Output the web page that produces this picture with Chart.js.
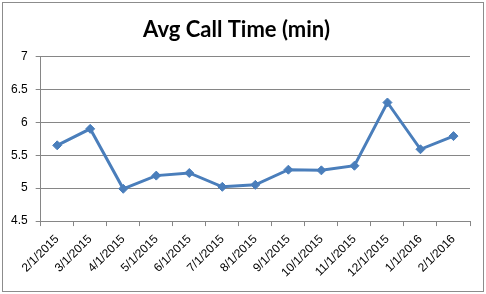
<!DOCTYPE html>
<html>
<head>
<meta charset="utf-8">
<script src="https://cdn.jsdelivr.net/npm/chart.js@4"></script>
<style>
  html, body { margin: 0; padding: 0; background: #fff; }
  #wrap { width: 486px; height: 294px; }
</style>
</head>
<body>
<div id="wrap"><canvas id="myChart" width="486" height="294"></canvas></div>
<script>
const months = ['2/1/2015', '3/1/2015', '4/1/2015', '5/1/2015', '6/1/2015', '7/1/2015', '8/1/2015',
    '9/1/2015', '10/1/2015', '11/1/2015', '12/1/2015', '1/1/2016', '2/1/2016'];
const callTime = [5.65, 5.9, 4.99, 5.19, 5.23, 5.02, 5.05, 5.28, 5.27, 5.34, 6.3, 5.59, 5.79];
const yMin = 4.5, yMax = 7, yStep = 0.5;

const lineBlue = '#4a7ebb';
const gridGray = '#868686';

// outer chart border, like the spreadsheet chart frame
const frame = {
    id: 'frame',
    afterDraw(chart) {
        const { ctx } = chart;
        ctx.save();
        ctx.strokeStyle = '#8c8c8c';
        ctx.lineWidth = 1;
        ctx.strokeRect(2.5, 2.5, chart.width - 5, chart.height - 5);
        ctx.restore();
    }
};

const ctx = document.getElementById('myChart').getContext('2d');
new Chart(ctx, {
    type: 'line',
    data: {
        labels: months,
        datasets: [{
            data: callTime,
            borderColor: lineBlue,
            backgroundColor: lineBlue,
            borderWidth: 3,
            pointStyle: 'rectRot',
            pointRadius: 4.5,
            pointBorderWidth: 1,
            tension: 0
        }]
    },
    options: {
        responsive: false,
        animation: false,
        layout: { padding: { left: 3, right: 16, top: 6, bottom: 8 } },
        plugins: {
            legend: { display: false },
            tooltip: { enabled: false },
            title: {
                display: true,
                text: 'Avg Call Time (min)',
                color: '#000',
                font: { family: 'Lato', size: 22, weight: 'bold' },
                padding: { top: 11, bottom: 13 }
            }
        },
        scales: {
            x: {
                offset: true,
                grid: {
                    offset: true,
                    drawOnChartArea: false,
                    color: gridGray,
                    tickLength: 5
                },
                border: { color: gridGray },
                ticks: {
                    color: '#000',
                    font: { family: 'Liberation Sans', size: 12 },
                    minRotation: 45,
                    maxRotation: 45,
                    autoSkip: false,
                    padding: 6
                }
            },
            y: {
                min: yMin,
                max: yMax,
                grid: { color: gridGray, tickLength: 5 },
                border: { color: gridGray },
                ticks: {
                    stepSize: yStep,
                    color: '#000',
                    font: { family: 'Liberation Sans', size: 12 },
                    padding: 8,
                    callback: (v) => String(v)
                }
            }
        }
    },
    plugins: [frame]
});
</script>
</body>
</html>
